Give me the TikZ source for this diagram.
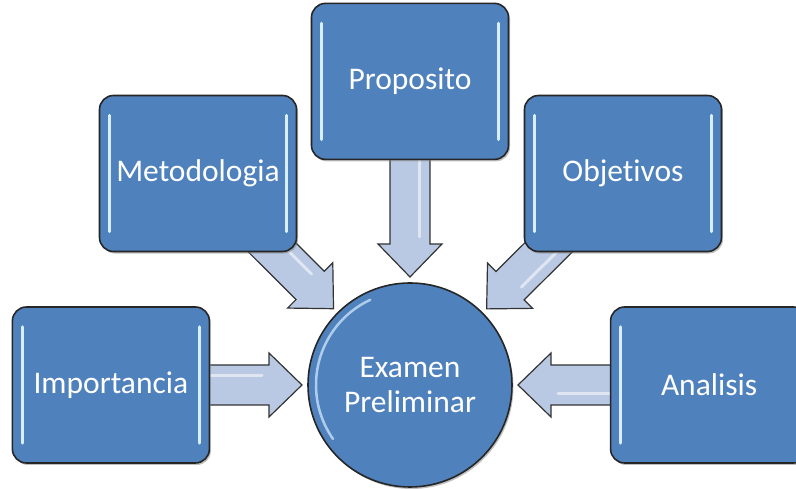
\documentclass[tikz,border=0pt]{standalone}
\usepackage{fontspec}
\setmainfont[Ligatures=NoCommon]{Carlito}
\usetikzlibrary{positioning,calc,shadows,backgrounds}
\definecolor{cajaazul}{HTML}{4F81BD}
\definecolor{flechagris}{HTML}{B9C9E3}
\definecolor{brillo}{HTML}{D8EEFF}
\tikzset{caja/.style={draw=black!85,line width=1.6pt,fill=cajaazul,rounded corners=14pt,
    minimum width=197pt,minimum height=156pt,text=white,font=\fontsize{31.5}{35}\selectfont,
    drop shadow={shadow xshift=1.5pt,shadow yshift=-2pt,opacity=.5},
    path picture={
      \draw[brillo,line width=3.5pt,line cap=round]
        ($(path picture bounding box.north west)+(10pt,-20pt)$) -- ($(path picture bounding box.south west)+(10pt,20pt)$)
        ($(path picture bounding box.north east)+(-10pt,-20pt)$) -- ($(path picture bounding box.south east)+(-10pt,20pt)$);}}}
\tikzset{centro/.style={circle,draw=black!85,line width=1.6pt,fill=cajaazul,minimum size=204pt,inner sep=0pt,
    text=white,align=center,font=\fontsize{31.5}{35}\selectfont,
    drop shadow={shadow xshift=1.5pt,shadow yshift=-2pt,opacity=.5},
    path picture={
      \draw[brillo,line width=2.5pt,line cap=round,opacity=.7]
        ($(path picture bounding box.center)+(115:94pt)$) arc[start angle=115,end angle=215,radius=94pt];}}}
\tikzset{flecha/.style={draw=black!80,line width=1.2pt,fill=flechagris,line join=miter}}
% block arrow from node #1 towards node #2
\newcommand\flechagorda[2]{%
  \path[flecha] let \p1=($(#2)-(#1)$), \n1={atan2(\y1,\x1)}, \n2={veclen(\x1,\y1)-108pt} in
    [shift={(#1)},rotate=\n1] (0pt,-20pt) -- ({\n2-33pt},-20pt) -- ({\n2-33pt},-32pt) -- ({\n2},0pt)
    -- ({\n2-33pt},32pt) -- ({\n2-33pt},20pt) -- (0pt,20pt) -- cycle;
  \path[draw=white,opacity=.55,line width=3pt,line cap=round] let \p1=($(#2)-(#1)$), \n1={atan2(\y1,\x1)}, \n2={veclen(\x1,\y1)-108pt} in
    [shift={(#1)},rotate=\n1] (0pt,9pt) -- ({\n2-40pt},9pt);}

\begin{document}
\begin{tikzpicture}[x=1pt,y=1pt]
  \useasboundingbox (0,0) rectangle (796,489);
  \node[centro](exam) at (410,104) {Examen\\Preliminar};
  \node[caja](impo)[left=97pt of exam]{Importancia};
  \node[caja](anal)[right=97pt of exam]{Analisis};
  \node[caja](prop)[above=122pt of exam]{Proposito};
  \node[caja](meto)[above left=60pt and 40pt of exam]{Metodologia};
  \node[caja](obje)[above right=60pt and 41pt of exam]{Objetivos};
  \begin{scope}[on background layer]
    \flechagorda{impo}{exam}
    \flechagorda{anal}{exam}
    \flechagorda{prop}{exam}
    \flechagorda{meto}{exam}
    \flechagorda{obje}{exam}
  \end{scope}
\end{tikzpicture}
\end{document}
